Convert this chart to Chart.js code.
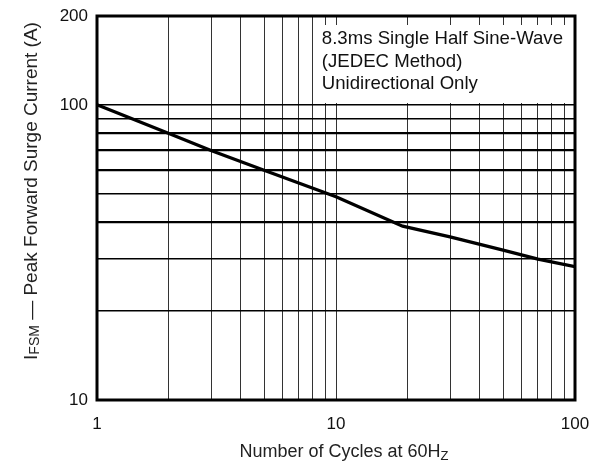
<!DOCTYPE html>
<html><head><meta charset="utf-8">
<script src="https://cdn.jsdelivr.net/npm/chart.js@4/dist/chart.umd.min.js"></script>
<style>html,body{margin:0;padding:0;background:#fff}#w{width:597px;height:464px;position:relative}</style>
</head><body><div id="w"><canvas id="c" width="597" height="464"></canvas></div>
<script>
const cycles = [1, 2, 3, 5, 10, 19, 30, 50, 70, 100];
const surgeCurrent = [100, 80, 70, 60, 48.8, 38.8, 35.7, 32.2, 30.0, 28.3];
const xGridTicks = [1,2,3,4,5,6,7,8,9,10,20,30,40,50,60,70,80,90,100];
const xLabelTicks = [1, 10, 100];
const yGridTicks = [10,20,30,40,50,60,70,80,90,100,200];
const yLabelTicks = [10, 100, 200];
const yThickLines = [40, 60, 70, 80];
const noteLines = ['8.3ms Single Half Sine-Wave', '(JEDEC Method)', 'Unidirectional Only'];
const xTitleMain = 'Number of Cycles at 60H', xTitleSub = 'Z';
const yTitleA = 'I', yTitleSub = 'FSM', yTitleB = ' \u2014 Peak Forward Surge Current (A)';

const FONT = '"Liberation Sans", Arial, Helvetica, sans-serif';

const extras = {
  id: 'extras',
  beforeDatasetsDraw(chart) {
    const ctx = chart.ctx, a = chart.chartArea, xs = chart.scales.x;
    const bx = xs.getPixelForValue(8), by = a.top + 9, bw = a.right - bx, bh = 78;
    ctx.save();
    ctx.fillStyle = '#fff';
    ctx.fillRect(bx + 1, by, bw, bh);
    ctx.fillStyle = '#111';
    ctx.font = '18.6px ' + FONT;
    ctx.textBaseline = 'middle';
    noteLines.forEach((t, i) => ctx.fillText(t, bx + 9, by + 14 + i * 22.5));
    ctx.restore();
  },
  afterDatasetsDraw(chart) {
    const ctx = chart.ctx, a = chart.chartArea;
    ctx.save();
    ctx.strokeStyle = '#000';
    ctx.lineWidth = 3;
    ctx.strokeRect(a.left, a.top, a.right - a.left, a.bottom - a.top);
    ctx.restore();
  },
  afterDraw(chart) {
    const ctx = chart.ctx;
    ctx.save();
    ctx.fillStyle = '#222';
    ctx.textBaseline = 'alphabetic';
    ctx.font = '18px ' + FONT;
    const w1 = ctx.measureText(xTitleMain).width;
    ctx.font = '13px ' + FONT;
    const w2 = ctx.measureText(xTitleSub).width;
    let x0 = 344 - (w1 + w2) / 2, yb = 457;
    ctx.font = '18px ' + FONT; ctx.fillText(xTitleMain, x0, yb);
    ctx.font = '13px ' + FONT; ctx.fillText(xTitleSub, x0 + w1, yb + 3);
    ctx.translate(37, 191);
    ctx.rotate(-Math.PI / 2);
    ctx.font = '19px ' + FONT;
    const a1 = ctx.measureText(yTitleA).width, a3 = ctx.measureText(yTitleB).width;
    ctx.font = '14px ' + FONT;
    const a2 = ctx.measureText(yTitleSub).width;
    let s = -(a1 + a2 + a3) / 2;
    ctx.font = '19px ' + FONT; ctx.fillText(yTitleA, s, 0);
    ctx.font = '14px ' + FONT; ctx.fillText(yTitleSub, s + a1, 2);
    ctx.font = '19px ' + FONT; ctx.fillText(yTitleB, s + a1 + a2, 0);
    ctx.restore();
  }
};

new Chart(document.getElementById('c'), {
  type: 'line',
  data: {
    datasets: [{
      data: cycles.map((c, i) => ({x: c, y: surgeCurrent[i]})),
      borderColor: '#000',
      borderWidth: 3.3,
      pointRadius: 0,
      tension: 0,
      fill: false
    }]
  },
  options: {
    responsive: false,
    animation: false,
    devicePixelRatio: 1,
    layout: {padding: {left: 0, right: 22, top: 16, bottom: 0}},
    plugins: {legend: {display: false}, tooltip: {enabled: false}, title: {display: false}},
    scales: {
      x: {
        type: 'logarithmic', min: 1, max: 100,
        afterBuildTicks: s => { s.ticks = xGridTicks.map(v => ({value: v})); },
        afterFit: s => { s.height = 64; s.paddingRight = 0; s.paddingLeft = 0; },
        ticks: {
          autoSkip: false, maxRotation: 0, padding: 14,
          color: '#111', font: {family: FONT, size: 17},
          callback: v => xLabelTicks.includes(v) ? String(v) : ''
        },
        grid: {color: '#333', lineWidth: 1, drawTicks: false},
        border: {display: false}
      },
      y: {
        type: 'logarithmic', min: 10, max: 200,
        afterBuildTicks: s => { s.ticks = yGridTicks.map(v => ({value: v})); },
        afterFit: s => { s.width = 97; s.paddingTop = 0; s.paddingBottom = 0; },
        ticks: {
          autoSkip: false, padding: 9,
          color: '#111', font: {family: FONT, size: 17},
          callback: v => yLabelTicks.includes(v) ? String(v) : ''
        },
        grid: {
          color: '#000', drawTicks: false,
          lineWidth: c => yThickLines.includes(c.tick && c.tick.value) ? 2.2 : 1.4
        },
        border: {display: false}
      }
    }
  },
  plugins: [extras]
});
</script></body></html>
